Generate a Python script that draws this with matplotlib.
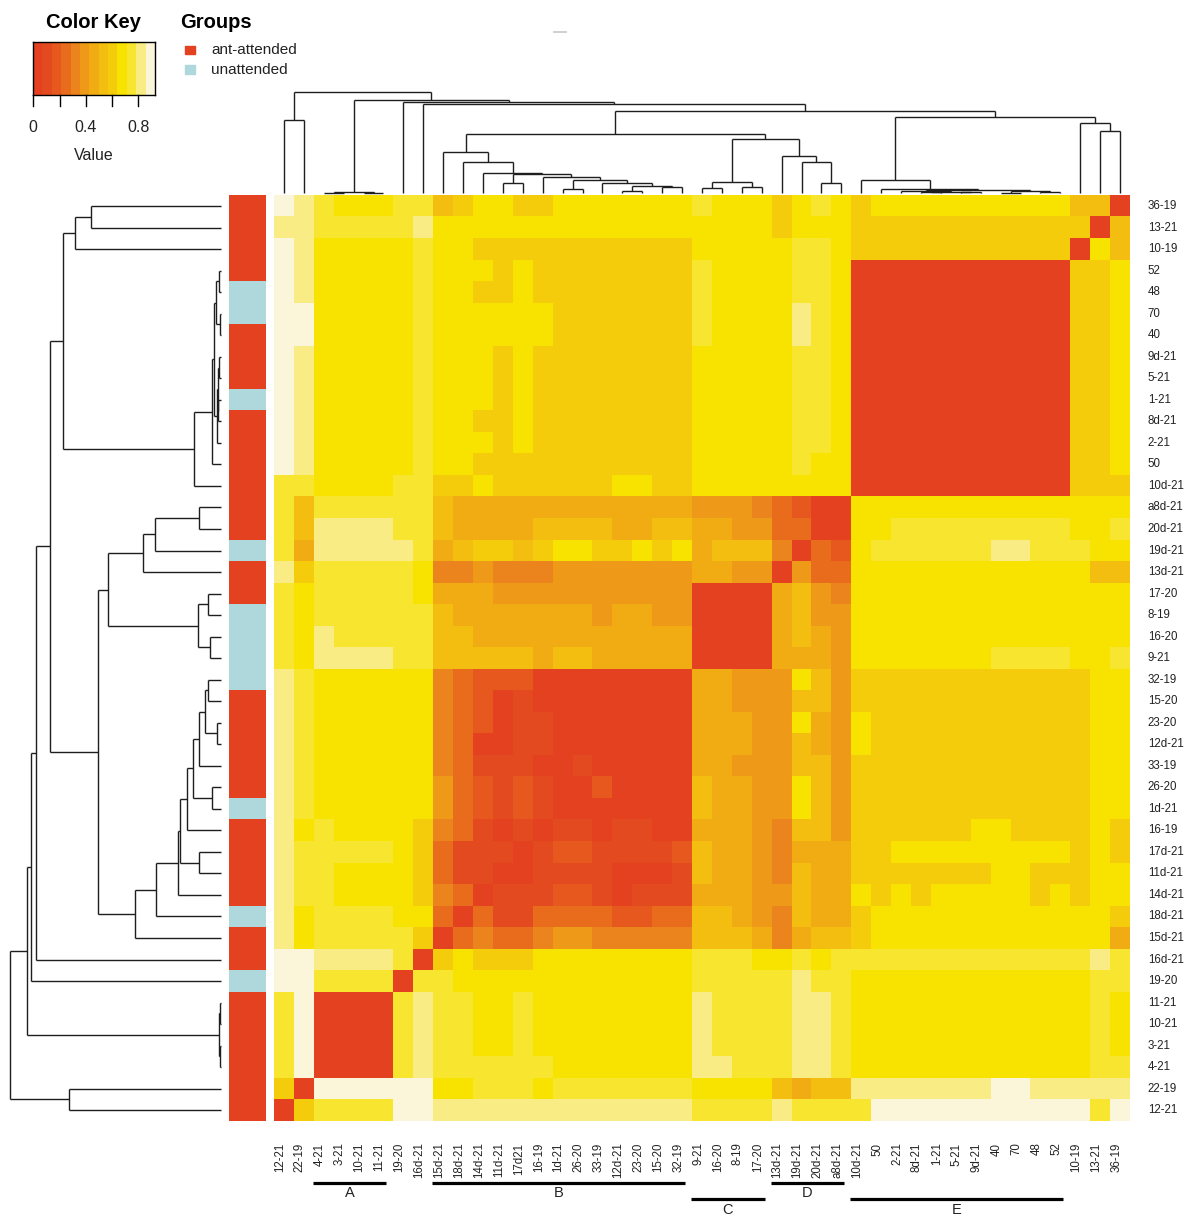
import numpy as np
import matplotlib
matplotlib.use("Agg")
import matplotlib.pyplot as plt
from matplotlib.colors import ListedColormap, BoundaryNorm
from matplotlib.collections import LineCollection

plt.rcParams['font.family'] = ['Liberation Sans', 'DejaVu Sans']

W, H = 1184, 1216  # output size in pixels


def fx(p):
    return p / W


def fy(p):
    return 1 - p / H


# ---- data -------------------------------------------------------------
row_labels = ['36-19', '13-21', '10-19', '52', '48', '70', '40', '9d-21', '5-21',
              '1-21', '8d-21', '2-21', '50', '10d-21', 'a8d-21', '20d-21', '19d-21',
              '13d-21', '17-20', '8-19', '16-20', '9-21', '32-19', '15-20', '23-20',
              '12d-21', '33-19', '26-20', '1d-21', '16-19', '17d-21', '11d-21',
              '14d-21', '18d-21', '15d-21', '16d-21', '19-20', '11-21', '10-21',
              '3-21', '4-21', '22-19', '12-21']

col_labels = ['12-21', '22-19', '4-21', '3-21', '10-21', '11-21', '19-20', '16d-21',
              '15d-21', '18d-21', '14d-21', '11d-21', '17d21', '16-19', '1d-21',
              '26-20', '33-19', '12d-21', '23-20', '15-20', '32-19', '9-21', '16-20',
              '8-19', '17-20', '13d-21', '19d-21', '20d-21', 'a8d-21', '10d-21', '50',
              '2-21', '8d-21', '1-21', '5-21', '9d-21', '40', '70', '48', '52',
              '10-19', '13-21', '36-19']

# cell levels, one hex digit per cell (0 = red ... c = cream)
cell_codes = [
    "cba999aa78" "9988999999" "9a99989a98" "9999999999" "770",
    "bbaaaaab99" "9999999999" "9999989998" "8888888888" "807",
    "cb99999a99" "8888888888" "899999aa98" "8888888888" "097",
    "cb99999a99" "9898888888" "8a9999aa90" "0000000000" "889",
    "cb99999a99" "8898888888" "8a9999aa90" "0000000000" "889",
    "cc99999a99" "9999888888" "8a9999ba90" "0000000000" "889",
    "cc99999a99" "9999888888" "8a9999ba90" "0000000000" "889",
    "cb99999a99" "9898888888" "899999aa90" "0000000000" "889",
    "cb99999a99" "9898888888" "899999aa90" "0000000000" "889",
    "cb99999a99" "9898888888" "899999aa90" "0000000000" "889",
    "cb99999a99" "8898888888" "899999aa90" "0000000000" "889",
    "cb99999a99" "9898888888" "899999aa90" "0000000000" "889",
    "cb99999a99" "8888888888" "899999a990" "0000000000" "889",
    "aa9999aa88" "9888888998" "8999999990" "0000000000" "888",
    "a7aaaaaa76" "6666666666" "6555432009" "9999999999" "999",
    "a7bbbbaa76" "6667777667" "7665533009" "9aaaaaaaaa" "99a",
    "a6bbbbba67" "8878998898" "9677740329" "aaaaaabbaa" "a99",
    "b8aaaaa944" "5444555555" "5665505339" "9999999999" "977",
    "a9aaaaa966" "6555555555" "5000067549" "9999999999" "999",
    "a9aaaaaa76" "6666665665" "5000067559" "9999999999" "999",
    "a9baaaaa77" "6666666666" "6000067659" "9999999999" "999",
    "a9bbbbaa77" "7776776666" "6000066659" "999999aaaa" "99a",
    "ba99999943" "2220000000" "0665559758" "8888888888" "899",
    "ba99999943" "2010000000" "0665557758" "8888888888" "899",
    "ba99999943" "2011000000" "0666559659" "8888888888" "899",
    "ba99999943" "0011000000" "0666557659" "8888888888" "899",
    "ba99999943" "1110010000" "0665557758" "8888888888" "899",
    "ba99999953" "2121002000" "0766559758" "8888888888" "899",
    "ba99999953" "2121000000" "0766559758" "8888888888" "899",
    "b9a9999843" "1010110110" "0666547758" "8888899888" "898",
    "baaaaa9831" "1101221111" "2766546668" "8999999999" "898",
    "baa9999831" "1001111000" "1766547668" "8888889988" "899",
    "baa9999843" "0111221011" "1666557669" "8989999989" "899",
    "b9aaaa9930" "3113333223" "3776547668" "9999999999" "998",
    "b9aaaaa803" "4334554444" "4777646778" "9999999999" "996",
    "ccbbbba089" "8889999999" "9aaa99a9aa" "aaaaaaaaaa" "aba",
    "ccaaaa0aa9" "9999999999" "9aaaaabaa9" "9999999999" "9aa",
    "ac0000abaa" "99a9999999" "9baaaabba9" "9999999999" "9a9",
    "ac0000abaa" "99a9999999" "9baaaabba9" "9999999999" "9a9",
    "ac0000abaa" "99a9999999" "9baaaabba9" "9999999999" "9a9",
    "ac0000abaa" "aaaa999999" "9bbaaabba9" "9999999999" "9aa",
    "80cccccc99" "aaa9aaaaaa" "a99997677b" "bbbbbbccbb" "bbb",
    "08aaaaccbb" "bbbbbbbbbb" "baaaabaaaa" "cccccccccc" "cac",
]

# a = ant-attended, u = unattended, one letter per row
row_groups = ("aaaa" "uu" "aaa" "u" "aaaaaa" "u" "aa" "uuuu" "aaaaa"
              "u" "aaaa" "u" "aa" "u" "aaaaaa")

# clustering tree, (left, right, merge height); leaves are row indices
upper = (((0, 1, 130), 2, 146),
         (((((3, 4, 2.5), (5, 6, 1), 5),
            (((7, 8, 2), (9, 10, 3), 3.5), 11, 4.5), 7), 12, 9), 13, 27),
         158)
cd = (((((14, 15, 22), 16, 66), 17, 78)),
      ((18, 19, 13), (20, 21, 11), 23), 113)
b = ((((((((((22, 23, 13), (24, 25, 4), 16), 26, 22), (27, 28, 9), 28), 29, 34),
          (30, 31, 22), 41), 32, 43), 33, 65), 34, 86))
tree = ((((((upper, (cd, b, 123), 171), 35, 185), 36, 190),
          ((37, 38, 1), (39, 40, 1), 2), 194), (41, 42, 152), 211))

bracket_names = ['A', 'B', 'C', 'D', 'E']
bracket_first = [2, 8, 21, 25, 29]
bracket_last = [5, 20, 24, 28, 39]
bracket_level = [0, 0, 1, 0, 1]

heat_colors = ['#E34120', '#E44A1F', '#E6581E', '#E86C1C', '#EB841C', '#EE9A18',
               '#F1AC14', '#F3BE10', '#F5CC0C', '#F7E200', '#F8E530', '#F9EC84',
               '#FBF5DA']
group_colors = {'a': '#E34120', 'u': '#AED8DC'}
# ------------------------------------------------------------------------

n = len(row_labels)
nb = len(heat_colors)
values = np.array([[(int(ch, 16) + 0.5) / (nb + 1) for ch in r] for r in cell_codes])
assert values.shape == (n, n)

edges = np.arange(nb + 1) / (nb + 1)
cmap = ListedColormap(heat_colors)
norm = BoundaryNorm(edges, cmap.N)

fig = plt.figure(figsize=(W / 100, H / 100), dpi=100)

# heatmap
hm_l, hm_r, hm_t, hm_b = 274, 1130, 195.3, 1121
ax = fig.add_axes([fx(hm_l), fy(hm_b), fx(hm_r - hm_l), (hm_b - hm_t) / H])
ax.imshow(values, cmap=cmap, norm=norm, aspect='auto', interpolation='nearest',
          extent=(0, n, n, 0))
ax.set_xlim(0, n)
ax.set_ylim(n, 0)
ax.axis('off')

for i, lab in enumerate(row_labels):
    ax.text(n + 0.9, i + 0.5, lab, ha='left', va='center', fontsize=8.3,
            color='#222222', clip_on=False)
for j, lab in enumerate(col_labels):
    ax.text(j + 0.3, n + 1.0, lab, ha='center', va='top', rotation=90,
            fontsize=8.3, color='#222222', clip_on=False)

for name, a, z, lev in zip(bracket_names, bracket_first, bracket_last, bracket_level):
    yl = 45.87 if lev == 0 else 46.62
    ax.plot([a - 0.05, z + 0.65], [yl, yl], color='black', lw=2.3,
            solid_capstyle='butt', clip_on=False)
    ax.text((a + z + 0.6) / 2, yl + 0.17, name, ha='center', va='top',
            fontsize=10.5, color='#222222', clip_on=False)

# side colour strip
axs = fig.add_axes([fx(228.7), fy(hm_b), fx(265 - 228.7), (hm_b - hm_t) / H])
gidx = np.array([[0 if g == 'a' else 1] for g in row_groups])
axs.imshow(gidx, cmap=ListedColormap([group_colors['a'], group_colors['u']]),
           vmin=0, vmax=1, aspect='auto', interpolation='nearest',
           extent=(0, 1, n, 0))
axs.axis('off')


def walk(node, segs):
    if isinstance(node, int):
        return node + 0.5, 0.0
    left, right, h = node
    pl, hl = walk(left, segs)
    pr, hr = walk(right, segs)
    segs.append([(hl, pl), (h, pl)])
    segs.append([(h, pl), (h, pr)])
    segs.append([(h, pr), (hr, pr)])
    return (pl + pr) / 2, h


segs = []
walk(tree, segs)
top_h = tree[2]

# row dendrogram
axr = fig.add_axes([fx(10.3), fy(hm_b), fx(221 - 10.3), (hm_b - hm_t) / H])
axr.add_collection(LineCollection(segs, colors='#1e1e1e', linewidths=1.0,
                                  clip_on=False))
axr.set_xlim(top_h, 0)
axr.set_ylim(n, 0)
axr.axis('off')

# column dendrogram (columns are rows reversed)
csegs = [[(n - p, h) for h, p in s] for s in segs]
axc = fig.add_axes([fx(hm_l), fy(193.3), fx(hm_r - hm_l), (193.3 - 91.7) / H])
axc.add_collection(LineCollection(csegs, colors='#1e1e1e', linewidths=1.0,
                                  clip_on=False))
axc.set_xlim(0, n)
axc.set_ylim(0, top_h)
axc.axis('off')

# colour key
axk = fig.add_axes([fx(33.3), fy(95), fx(155 - 33.3), (95 - 42.3) / H])
key_vals = ((np.arange(nb) + 0.5) / (nb + 1))[None, :]
axk.imshow(key_vals, cmap=cmap, norm=norm, aspect='auto', interpolation='nearest',
           extent=(0, edges[-1], 0, 1))
axk.set_xlim(0, edges[-1])
axk.set_ylim(0, 1)
axk.set_xticks([])
axk.set_yticks([])
for sp in axk.spines.values():
    sp.set_linewidth(1.0)
for t in [0, 0.2, 0.4, 0.6, 0.8]:
    axk.plot([t, t], [0, -0.21], color='black', lw=1.0, clip_on=False)
for t, s in [(0, '0'), (0.4, '0.4'), (0.8, '0.8')]:
    axk.text(t, -0.61, s, ha='center', va='center', fontsize=11.5, color='#222222')
axk.text(edges[-1] / 2, -1.14, 'Value', ha='center', va='center', fontsize=11.5,
         color='#222222')

fig.text(fx(93), fy(23), 'Color Key', ha='center', va='center', fontsize=14.5,
         fontweight='bold')
fig.text(fx(180), fy(23), 'Groups', ha='left', va='center', fontsize=14.5,
         fontweight='bold')
for yy, key, lab in [(50, 'a', 'ant-attended'), (69.5, 'u', 'unattended')]:
    fig.patches.append(plt.Rectangle((fx(185), fy(yy + 4.3)), fx(9.5), 8.6 / H,
                                     transform=fig.transFigure,
                                     color=group_colors[key]))
    fig.text(fx(211), fy(yy), lab, ha='left', va='center', fontsize=11,
             color='#222222')

# faint stray mark at the top of the original
fig.lines.append(plt.Line2D([fx(554), fx(566)], [fy(32), fy(32)],
                            transform=fig.transFigure, color='#c8c8c8', lw=1.2))

fig.savefig('out.png', dpi=100)
